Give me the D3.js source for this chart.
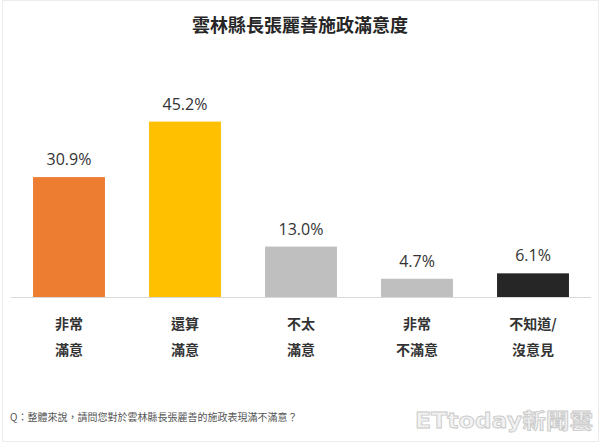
<!DOCTYPE html>
<html><head><meta charset="utf-8">
<script src="https://cdn.jsdelivr.net/npm/d3@7"></script>
<style>html,body{margin:0;padding:0;background:#fff;}</style>
</head><body>
<svg id="c" width="600" height="444"></svg>
<script>
const title = "雲林縣長張麗善施政滿意度";
const categories = ["非常滿意","還算滿意","不太滿意","非常不滿意","不知道/沒意見"];
const labelLines = [["非常","滿意"],["還算","滿意"],["不太","滿意"],["非常","不滿意"],["不知道/","沒意見"]];
const values = [30.9, 45.2, 13.0, 4.7, 6.1];
const colors = ["#ED7D31","#FFC000","#BFBFBF","#BFBFBF","#262626"];
const footnote = "Q：整體來說，請問您對於雲林縣長張麗善的施政表現滿不滿意？";
const watermark = "ETtoday新聞雲";

const svg = d3.select("#c");
const cjk = "'Noto Sans CJK TC','Noto Sans CJK SC',sans-serif";

// faint frame
svg.append("rect").attr("x",2.5).attr("y",0.5).attr("width",596).attr("height",441)
  .attr("fill","none").attr("stroke","#ececec");

const x = d3.scaleBand().domain(categories).range([11,591]).paddingInner(0.38).paddingOuter(0.19);
const y = d3.scaleLinear().domain([0,50]).range([297,103]);

svg.append("text").attr("x",300).attr("y",32).attr("text-anchor","middle")
  .attr("font-family",cjk).attr("font-weight","bold").attr("font-size",18).attr("fill","#262626")
  .text(title);

svg.append("line").attr("x1",11).attr("x2",591).attr("y1",297.5).attr("y2",297.5)
  .attr("stroke","#d9d9d9").attr("stroke-width",1);

svg.selectAll("rect.bar").data(values).join("rect").attr("class","bar")
  .attr("x",(d,i)=>x(categories[i])).attr("width",x.bandwidth())
  .attr("y",d=>y(d)).attr("height",d=>y(0)-y(d))
  .attr("fill",(d,i)=>colors[i]);

svg.selectAll("text.val").data(values).join("text").attr("class","val")
  .attr("x",(d,i)=>x(categories[i])+x.bandwidth()/2).attr("y",d=>y(d)-12)
  .attr("text-anchor","middle").attr("font-family","'Open Sans',sans-serif")
  .attr("font-size",16).attr("fill","#333")
  .text(d=>d.toFixed(1)+"%");

const g = svg.selectAll("g.cat").data(categories).join("g").attr("class","cat");
g.each(function(c,i){
  const cx = x(c)+x.bandwidth()/2;
  labelLines[i].forEach((ln,j)=>{
    d3.select(this).append("text").attr("x",cx).attr("y",329+j*26)
      .attr("text-anchor","middle").attr("font-family",cjk).attr("font-weight","bold")
      .attr("font-size",14).attr("fill","#333").text(ln);
  });
});

svg.append("text").attr("x",10).attr("y",421).attr("font-family",cjk)
  .attr("font-size",10).attr("fill","#555").text(footnote);

svg.append("text").attr("x",593).attr("y",428).attr("text-anchor","end")
  .attr("font-family","'DejaVu Sans',"+cjk).attr("font-weight","bold")
  .attr("font-size",21).attr("fill","#f2f2f2").attr("stroke","#c8c8c8").attr("stroke-width",0.8)
  .attr("textLength",178).attr("lengthAdjust","spacingAndGlyphs")
  .text(watermark);
</script>
</body></html>
